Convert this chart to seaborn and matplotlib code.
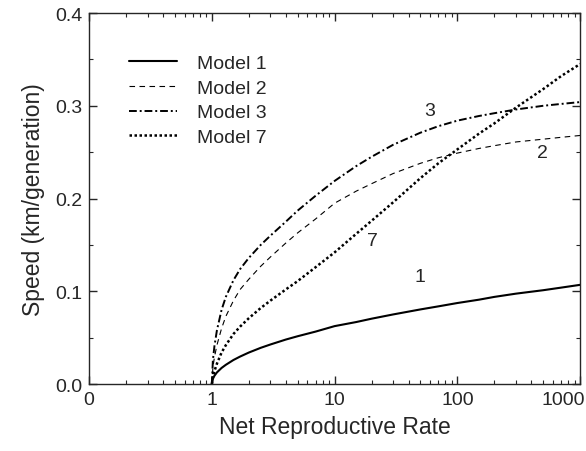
import matplotlib
matplotlib.use('Agg')
import matplotlib.pyplot as plt
import matplotlib.ticker as mticker
import matplotlib.transforms as mtransforms
import seaborn as sns
import pandas as pd

# net reproductive rate R and speeds
rate = [1, 1.02, 1.05, 1.1, 1.2, 1.3, 1.5, 1.7, 2, 2.5, 3, 4, 5, 7, 10,
        15, 20, 30, 50, 70, 100, 150, 200, 300, 500, 700, 1000]
model_1 = [0.0, 0.0057, 0.0090, 0.0126, 0.0174, 0.0208, 0.026, 0.0297, 0.034, 0.0391, 0.0427,
           0.0480, 0.0516, 0.0566, 0.0625, 0.0669, 0.0705, 0.0751, 0.0805, 0.0838, 0.0874,
           0.0910, 0.0940, 0.0975, 0.1012, 0.1040, 0.107]
model_2 = [0.0, 0.018, 0.029, 0.042, 0.060, 0.073, 0.090, 0.102, 0.113, 0.127, 0.137,
           0.152, 0.163, 0.178, 0.195, 0.208, 0.216, 0.227, 0.238, 0.244, 0.249,
           0.254, 0.257, 0.261, 0.264, 0.266, 0.268]
model_3 = [0.0, 0.026, 0.041, 0.058, 0.080, 0.094, 0.112, 0.124, 0.136, 0.150, 0.160,
           0.175, 0.187, 0.203, 0.219, 0.235, 0.245, 0.258, 0.271, 0.278, 0.284,
           0.289, 0.292, 0.296, 0.300, 0.302, 0.304]
model_7 = [0.0, 0.008, 0.014, 0.022, 0.034, 0.042, 0.054, 0.062, 0.071, 0.082, 0.090,
           0.102, 0.111, 0.126, 0.142, 0.162, 0.176, 0.196, 0.222, 0.238, 0.253,
           0.270, 0.281, 0.298, 0.318, 0.332, 0.345]

model_names = ['Model 1', 'Model 2', 'Model 3', 'Model 7']
curve_tags = ['1', '2', '3', '7']
tag_pos = [(50, 0.116), (490, 0.250), (60, 0.295), (20.5, 0.155)]

x_ticks = [0.1, 1, 10, 100, 1000]
x_tick_labels = ['0', '1', '10', '100', '1000']


def set_style():
    sns.set_style('ticks')
    plt.rcParams['font.family'] = ['Liberation Sans', 'DejaVu Sans']
    plt.rcParams['xtick.direction'] = 'in'
    plt.rcParams['ytick.direction'] = 'in'
    plt.rcParams['axes.linewidth'] = 1.0


set_style()

fig = plt.figure(figsize=(5.86, 4.52), dpi=100)
ax = fig.add_axes([0.152, 0.148, 0.838, 0.821])

styles = [
    dict(linestyle='-', linewidth=1.5),
    dict(linestyle=(0, (5, 4)), linewidth=0.8),
    dict(linestyle=(0, (4, 1.5, 1, 1.5)), linewidth=1.4),
    dict(linestyle=(0, (1, 1)), linewidth=1.8),
]

for name, vals, st in zip(model_names, [model_1, model_2, model_3, model_7], styles):
    df = pd.DataFrame({'rate': rate, 'speed': vals})
    sns.lineplot(data=df, x='rate', y='speed', ax=ax, color='black',
                 label=name, **st)

for tag, (tx, ty) in zip(curve_tags, tag_pos):
    ax.text(tx, ty, tag, fontsize=14, ha='center', va='center')

ax.set_xscale('log')
ax.set_xlim(0.1, 1000)
ax.set_ylim(0, 0.4)
ax.set_xticks(x_ticks)
ax.set_xticklabels(x_tick_labels)
ax.xaxis.set_minor_locator(mticker.LogLocator(base=10, subs=range(2, 10)))
ax.xaxis.set_minor_formatter(mticker.NullFormatter())
ax.set_yticks([0.0, 0.1, 0.2, 0.3, 0.4])
ax.set_yticklabels(['0.0', '0.1', '0.2', '0.3', '0.4'])
ax.yaxis.set_minor_locator(mticker.MultipleLocator(0.05))
ax.tick_params(which='both', top=True, right=True, labelsize=14, pad=5)
ax.tick_params(which='major', length=6, width=1)
ax.tick_params(which='minor', length=3, width=0.8)

# keep the last tick label inside the picture, as in the reference
last = ax.get_xticklabels()[-1]
last.set_transform(last.get_transform() + mtransforms.ScaledTranslation(-0.17, 0, fig.dpi_scale_trans))

ax.set_xlabel('Net Reproductive Rate', fontsize=16.5, labelpad=5)
ax.set_ylabel('Speed (km/generation)', fontsize=16.5, labelpad=7)

ax.legend(loc='upper left', bbox_to_anchor=(0.045, 0.935), frameon=False,
          fontsize=14, handlelength=2.5, handletextpad=1.0, labelspacing=0.36)

plt.savefig('out.png', dpi=100)
